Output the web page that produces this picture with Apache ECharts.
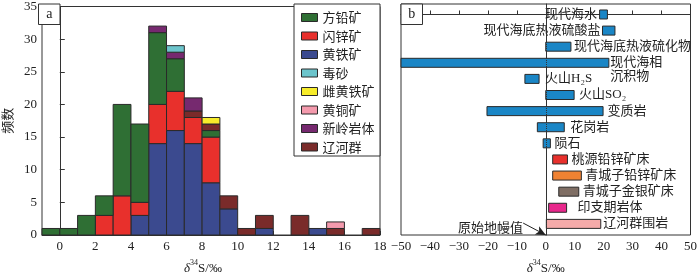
<!DOCTYPE html>
<html><head><meta charset="utf-8">
<script src="https://cdn.jsdelivr.net/npm/echarts@6/dist/echarts.min.js"></script>
<style>html,body{margin:0;padding:0;background:#fff}#c{width:700px;height:280px}</style>
</head><body><div id="c"></div>
<script>
// ---------- Panel a: histogram data (bins of 1 per mil, starting at binStarts) ----------
const binStarts   = [-1,0,1,2,3,4,5,6,7,8,9,10,11,12,13,14,15,16,17];
const pyrite      = [0,0,0,0,0,3,14,16,14,8,4,0,1,0,0,1,0,0,0];   // 黄铁矿
const sphalerite  = [0,0,0,3,6,2,6,6,4,7,0,0,0,0,0,0,0,0,0];      // 闪锌矿
const galena      = [1,1,3,3,14,12,11,5,0,1,0,0,0,0,0,0,0,0,0];   // 方铅矿
const liaohe      = [0,0,0,0,0,0,0,0,1,1,2,1,2,0,3,0,1,0,1];      // 辽河群
const xinling     = [0,0,0,0,0,0,1,1,2,0,0,0,0,0,0,0,0,0,0];      // 新岭岩体
const arsenopyrite= [0,0,0,0,0,0,0,1,0,0,0,0,0,0,0,0,0,0,0];      // 毒砂
const pyrrhotite  = [0,0,0,0,0,0,0,0,0,1,0,0,0,0,0,0,0,0,0];      // 雌黄铁矿
const chalcopyrite= [0,0,0,0,0,0,0,0,0,0,0,0,0,0,0,0,1,0,0];      // 黄铜矿
const xTickValues = [0,2,4,6,8,10,12,14,16,18];
const legendOrder = ['方铅矿','闪锌矿','黄铁矿','毒砂','雌黄铁矿','黄铜矿','新岭岩体','辽河群'];

// ---------- Panel b: ranges ----------
const rowNames = ['现代海水','现代海底热液硫酸盐','现代海底热液硫化物','现代海相\n沉积物','火山H₂S','火山SO₂','变质岩','花岗岩','陨石','桃源铅锌矿床','青城子铅锌矿床','青城子金银矿床','印支期岩体','辽河群围岩'];
const rowMin = [18.6, 19.6, 0, -50, -7.2, 0, -20.3, -2.9, -0.9, 2.4, 2.4, 4.5, 1.0, 0.2];
const rowMax = [21.3, 23.9, 8.7, 21.8, -2.3, 9.8, 19.8, 6.4, 1.6, 7.5, 12.3, 11.4, 7.2, 19.0];
const mantleValue = 0;   // 原始地幔值

// ---------- styles ----------
const stackDefs = [
  {name:'黄铁矿', vals:pyrite, color:'#3b4a8f'},
  {name:'闪锌矿', vals:sphalerite, color:'#e8302c'},
  {name:'方铅矿', vals:galena, color:'#2f6f34'},
  {name:'辽河群', vals:liaohe, color:'#7a2b2a'},
  {name:'新岭岩体', vals:xinling, color:'#76296f'},
  {name:'毒砂', vals:arsenopyrite, color:'#6cc5cc'},
  {name:'雌黄铁矿', vals:pyrrhotite, color:'#f7ec2a'},
  {name:'黄铜矿', vals:chalcopyrite, color:'#f49aad'}
];
const rowColors = ['#1a86c6','#1a86c6','#1a86c6','#1a86c6','#1a86c6','#1a86c6','#1a86c6','#1a86c6','#1a86c6','#e8302c','#f08232','#7f6e64','#e8288c','#f5aaa9'];
const labelSide = ['right','right','left','left','left','left','left','left','left','left','left','left','left','left'];
const labelGap  = [2.5,2,3,1.5,6,5,4.5,6,4,4,4,4,11,2.5];
const SERIF = '"Liberation Serif","Noto Sans CJK SC",serif';
const TXT = '#222';

const chart = echarts.init(document.getElementById('c'), null, {renderer:'canvas'});

// build stacked custom data
const base = binStarts.map(()=>0);
const histSeries = stackDefs.map(def => {
  const data = [];
  def.vals.forEach((v,i) => {
    if (v > 0) data.push([binStarts[i], base[i], base[i]+v]);
    base[i] += v;
  });
  return {
    name: def.name, type:'custom', xAxisIndex:0, yAxisIndex:0,
    itemStyle:{color:def.color, borderColor:'#2a2a2a', borderWidth:1},
    encode:{x:0, y:[1,2]},
    data,
    renderItem:(params, api) => {
      const x0 = api.value(0), b = api.value(1), t = api.value(2);
      const p0 = api.coord([x0, b]);
      const p1 = api.coord([x0+1, t]);
      return {type:'rect', shape:{x:p0[0], y:p1[1], width:p1[0]-p0[0], height:p0[1]-p1[1]},
        style:{fill:def.color, stroke:'#2a2a2a', lineWidth:1}};
    }
  };
});

const rangeData = rowNames.map((n,i)=>[i, rowMin[i], rowMax[i]]);
const nameRich = {
  i:{fontFamily:SERIF, fontStyle:'italic', fontSize:13, color:TXT, lineHeight:16, verticalAlign:'bottom'},
  s:{fontFamily:SERIF, fontSize:8, color:TXT, lineHeight:16, verticalAlign:'top'},
  n:{fontFamily:SERIF, fontSize:13, color:TXT, lineHeight:16, verticalAlign:'bottom'}
};
const axisNameTxt = '{i|δ}{s|34}{n|S/‰}';

const option = {
  animation:false,
  grid:[
    {left:38.5, right:320, top:4, bottom:33, show:true, borderColor:'#333', borderWidth:1, backgroundColor:'#fff'},
    {left:401, right:5, top:4, bottom:33, show:true, borderColor:'#333', borderWidth:1, backgroundColor:'#fff'}
  ],
  xAxis:[
    {gridIndex:0, type:'value', min:-1, max:18,
     axisLine:{lineStyle:{color:'#333'}}, splitLine:{show:false},
     axisTick:{inside:true, length:4, customValues:xTickValues, lineStyle:{color:'#333'}},
     axisLabel:{customValues:xTickValues, fontFamily:SERIF, fontSize:13, color:TXT, margin:5},
     name:axisNameTxt, nameLocation:'middle', nameGap:24,
     nameTextStyle:{rich:nameRich, padding:[0,16,0,0]}},
    {gridIndex:1, type:'value', min:-50, max:50, interval:10,
     axisLine:{lineStyle:{color:'#333'}}, splitLine:{show:false},
     axisTick:{inside:true, length:4, lineStyle:{color:'#333'}},
     axisLabel:{fontFamily:SERIF, fontSize:13, color:TXT, margin:5,
       formatter:v => v < 0 ? '−' + Math.abs(v) : String(v)},
     name:axisNameTxt, nameLocation:'middle', nameGap:24,
     nameTextStyle:{rich:nameRich}}
  ],
  yAxis:[
    {gridIndex:0, type:'value', min:0, max:35, interval:5,
     axisLine:{show:true, lineStyle:{color:'#333'}}, splitLine:{show:false},
     axisTick:{show:true, inside:true, length:5, lineStyle:{color:'#333'}},
     axisLabel:{fontFamily:SERIF, fontSize:13, color:TXT, margin:5},
     name:'频数', nameLocation:'middle', nameRotate:90, nameGap:28,
     nameTextStyle:{fontFamily:'"Noto Sans CJK SC",sans-serif', fontSize:13, color:TXT}},
    {gridIndex:1, type:'value', inverse:true, min:-0.65, max:13.69,
     axisLine:{show:true, lineStyle:{color:'#333'}}, splitLine:{show:false},
     axisTick:{show:false}, axisLabel:{show:false}}
  ],
  legend:{
    data:legendOrder, orient:'vertical', left:301, top:10.5, padding:0,
    itemWidth:16, itemHeight:8, itemGap:4.5, icon:'rect',
    itemStyle:{borderColor:'#2a2a2a', borderWidth:1},
    textStyle:{fontFamily:'"Noto Sans CJK SC",sans-serif', fontSize:13, color:TXT, lineHeight:14},
    selectedMode:false, z:20
  },
  graphic:[
    {type:'rect', z:10, shape:{x:294, y:4, width:86, height:152}, style:{fill:'#fff', stroke:'#333', lineWidth:1}},
    {type:'rect', z:10, shape:{x:38.5, y:4, width:21.5, height:20.5}, style:{fill:'#fff', stroke:'#333', lineWidth:1}},
    {type:'text', z:11, x:49.25, y:14.5, style:{text:'a', fontFamily:SERIF, fontSize:14, fill:TXT, align:'center', verticalAlign:'middle'}},
    {type:'rect', z:10, shape:{x:401, y:4, width:21.5, height:20.5}, style:{fill:'#fff', stroke:'#333', lineWidth:1}},
    {type:'text', z:11, x:411.75, y:14.5, style:{text:'b', fontFamily:SERIF, fontSize:14, fill:TXT, align:'center', verticalAlign:'middle'}},
    {type:'text', z:11, x:523, y:229, style:{text:'原始地幔值', fontFamily:SERIF, fontSize:13, fill:TXT, align:'right', verticalAlign:'middle'}}
  ],
  series: histSeries.concat([
    {type:'custom', name:'ranges', xAxisIndex:1, yAxisIndex:1, data:rangeData, encode:{x:[1,2], y:0},
     renderItem:(params, api) => {
       const i = api.value(0), s = api.value(1), e = api.value(2);
       const p0 = api.coord([s, i]), p1 = api.coord([e, i]);
       const h = 9;
       const side = labelSide[i];
       const tx = side === 'right' ? p0[0] - labelGap[i] : p1[0] + labelGap[i];
       return {type:'group', children:[
         {type:'rect', shape:{x:p0[0], y:p0[1]-h/2, width:p1[0]-p0[0], height:h},
          style:{fill:rowColors[i], stroke:'#2a2a2a', lineWidth:1}},
         {type:'text', x:tx, y:p0[1]-7,
          style:{text:rowNames[i], fontFamily:SERIF, fontSize:13, lineHeight:14, fill:TXT, align:side, verticalAlign:'top'}}
       ]};
     }},
    {type:'line', xAxisIndex:1, yAxisIndex:1, data:[], silent:true,
     markLine:{silent:true, symbol:['none','none'], animation:false,
       lineStyle:{type:'dotted', color:'#333', width:1},
       label:{show:false},
       data:[{xAxis:mantleValue}]}},
    {type:'line', xAxisIndex:1, yAxisIndex:1, data:[], silent:true,
     markLine:{silent:true, animation:false,
       lineStyle:{type:'solid', color:'#222', width:1},
       label:{show:false},
       data:[[
         {coord:[-7.8, 12.95], symbol:'none'},
         {coord:[mantleValue, 13.69], symbol:'arrow', symbolSize:[7,10]}
       ]]}}
  ])
};
chart.setOption(option);
</script></body></html>
